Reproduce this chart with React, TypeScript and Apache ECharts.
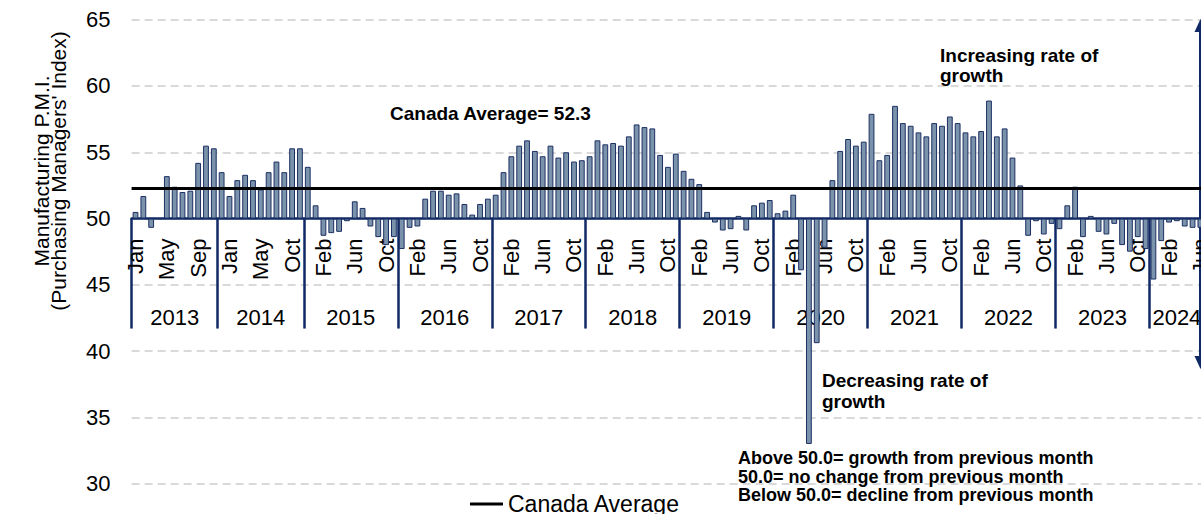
import React, { useEffect, useRef } from "react";
import * as echarts from "echarts";

// ---------- data ----------
const MONTHS = ["Jan", "Feb", "Mar", "Apr", "May", "Jun", "Jul", "Aug", "Sep", "Oct", "Nov", "Dec"];
// Aug 2014 is absent from the plotted series
const MONTHS_2014 = ["Jan", "Feb", "Mar", "Apr", "May", "Jun", "Jul", "Sep", "Oct", "Nov", "Dec"];
const MONTHS_2024 = ["Jan", "Feb", "Mar", "Apr", "May", "Jun"];

const pmi2013 = [50.5, 51.7, 49.3, 50.0, 53.2, 52.4, 52.0, 52.1, 54.2, 55.5, 55.3, 53.5];
const pmi2014 = [51.7, 52.9, 53.3, 52.9, 52.2, 53.5, 54.3, 53.5, 55.3, 55.3, 53.9];
const pmi2015 = [51.0, 48.7, 48.9, 49.0, 49.8, 51.3, 50.8, 49.4, 48.6, 48.0, 48.6, 47.7];
const pmi2016 = [49.3, 49.4, 51.5, 52.1, 52.1, 51.8, 51.9, 51.1, 50.3, 51.1, 51.5, 51.8];
const pmi2017 = [53.5, 54.7, 55.5, 55.9, 55.1, 54.7, 55.5, 54.6, 55.0, 54.3, 54.4, 54.7];
const pmi2018 = [55.9, 55.6, 55.7, 55.5, 56.2, 57.1, 56.9, 56.8, 54.8, 53.9, 54.9, 53.6];
const pmi2019 = [53.0, 52.6, 50.5, 49.7, 49.1, 49.2, 50.2, 49.1, 51.0, 51.2, 51.4, 50.4];
const pmi2020 = [50.6, 51.8, 46.1, 33.0, 40.6, 47.8, 52.9, 55.1, 56.0, 55.5, 55.8, 57.9];
const pmi2021 = [54.4, 54.8, 58.5, 57.2, 57.0, 56.5, 56.2, 57.2, 57.0, 57.7, 57.2, 56.5];
const pmi2022 = [56.2, 56.6, 58.9, 56.2, 56.8, 54.6, 52.5, 48.7, 49.8, 48.8, 49.6, 49.2];
const pmi2023 = [51.0, 52.4, 48.6, 50.2, 49.0, 48.8, 49.6, 48.0, 47.5, 48.6, 47.7, 45.4];
const pmi2024 = [48.3, 49.7, 49.8, 49.4, 49.3, 49.3];

const monthLabels: string[] = [
  MONTHS, MONTHS_2014, MONTHS, MONTHS, MONTHS, MONTHS, MONTHS, MONTHS, MONTHS, MONTHS, MONTHS, MONTHS_2024,
].flat();
const pmiValues: number[] = [
  pmi2013, pmi2014, pmi2015, pmi2016, pmi2017, pmi2018, pmi2019, pmi2020, pmi2021, pmi2022, pmi2023, pmi2024,
].flat();

// year group labels of the two-level category axis and the category index where each group begins
const yearLabels = ["2013", "2014", "2015", "2016", "2017", "2018", "2019", "2020", "2021", "2022", "2023", "2024"];
const yearGroupStart = [0, 11, 22, 34, 46, 58, 70, 82, 94, 106, 118, 130];

const canadaAverage = 52.3;
const BASELINE = 50;
const Y_MIN = 30;
const Y_MAX = 65;
const Y_STEP = 5;

const NAVY = "#102a66";
const FONT = '"Liberation Sans", Arial, sans-serif';

const GRID_TOP = 19.7;
const GRID_HEIGHT = 464;

export default function App() {
  const ref = useRef<HTMLDivElement>(null);

  useEffect(() => {
    if (!ref.current) return;
    const chart = echarts.init(ref.current, undefined, { renderer: "svg" });
    const shifted = pmiValues.map((v) => Math.round((v - BASELINE) * 10) / 10);
    const separatorSet = new Set(yearGroupStart);
    // move the category axis from the grid bottom up to the 50 baseline
    const axisOffset = -(GRID_HEIGHT * (BASELINE - Y_MIN)) / (Y_MAX - Y_MIN);

    chart.setOption({
      animation: false,
      grid: {
        left: 131.6,
        top: GRID_TOP,
        width: 1072.7,
        height: GRID_HEIGHT,
        containLabel: false,
        outerBoundsMode: "none",
      },
      legend: {
        data: [{ name: "Canada Average", icon: "rect" }],
        left: 470,
        top: 492,
        itemWidth: 33,
        itemHeight: 3,
        padding: 0,
        textStyle: { fontSize: 23, color: "#000", fontFamily: FONT, lineHeight: 24 },
      },
      xAxis: {
        type: "category",
        data: monthLabels,
        position: "bottom",
        offset: axisOffset,
        axisLine: { onZero: false, lineStyle: { color: NAVY, width: 2.5 } },
        axisTick: {
          show: true,
          interval: (i: number) => separatorSet.has(i),
          length: 110,
          lineStyle: { color: NAVY, width: 2.5 },
        },
        axisLabel: {
          interval: 3,
          rotate: 90,
          fontSize: 22,
          color: "#000",
          margin: 20,
          fontFamily: FONT,
        },
        splitLine: { show: false },
      },
      yAxis: {
        type: "value",
        min: Y_MIN - BASELINE,
        max: Y_MAX - BASELINE,
        interval: Y_STEP,
        axisLine: { show: false },
        axisTick: { show: false },
        axisLabel: {
          formatter: (v: number) => String(Math.round(v + BASELINE)),
          fontSize: 22,
          color: "#000",
          margin: 21,
          fontFamily: FONT,
        },
        splitLine: { show: true, lineStyle: { color: "#d9d9d9", width: 2, type: [8, 5] } },
      },
      series: [
        {
          type: "bar",
          name: "PMI",
          data: shifted,
          barWidth: "74%",
          itemStyle: { color: "#7b93aa", borderColor: "#1c2f63", borderWidth: 1 },
          markLine: {
            silent: true,
            symbol: ["none", "none"],
            label: { show: false },
            lineStyle: { color: "#000", width: 3, type: "solid" },
            data: [{ yAxis: Math.round((canadaAverage - BASELINE) * 10) / 10 }],
          },
        },
        {
          type: "line",
          name: "Canada Average",
          data: [],
          symbol: "none",
          lineStyle: { color: "#000", width: 3 },
          itemStyle: { color: "#000" },
        },
      ],
    });

    // year labels of the second category level, placed through the axis scale
    const c0 = chart.convertToPixel({ xAxisIndex: 0 }, 0) as number;
    const c1 = chart.convertToPixel({ xAxisIndex: 0 }, 1) as number;
    const band = c1 - c0;
    const leftEdge = (i: number) => c0 + i * band - band / 2;
    const n = pmiValues.length;
    const yearTexts = yearLabels.map((label, k) => {
      const s = yearGroupStart[k];
      const e = k + 1 < yearGroupStart.length ? yearGroupStart[k + 1] : n;
      return {
        type: "text",
        style: {
          text: label,
          x: (leftEdge(s) + leftEdge(e)) / 2,
          y: 317,
          align: "center",
          verticalAlign: "middle",
          fontSize: 22,
          fontFamily: FONT,
          fill: "#000",
        },
      };
    });

    const boldText = (text: string, x: number, y: number, size: number, lh: number) => ({
      type: "text",
      style: {
        text,
        x,
        y,
        align: "left",
        verticalAlign: "top",
        fontSize: size,
        fontWeight: "bold",
        fontFamily: FONT,
        lineHeight: lh,
        fill: "#000",
      },
    });

    chart.setOption({
      graphic: [
        ...yearTexts,
        {
          type: "text",
          x: 41,
          y: 171,
          rotation: Math.PI / 2,
          style: {
            text: "Manufacturing P.M.I.",
            align: "center",
            verticalAlign: "middle",
            fontSize: 21,
            fontFamily: FONT,
            fill: "#000",
          },
        },
        {
          type: "text",
          x: 58.5,
          y: 171,
          rotation: Math.PI / 2,
          style: {
            text: "(Purchasing Managers' Index)",
            align: "center",
            verticalAlign: "middle",
            fontSize: 21,
            fontFamily: FONT,
            fill: "#000",
          },
        },
        boldText("Canada Average= 52.3", 390, 103, 19, 20),
        boldText("Increasing rate of\ngrowth", 940, 45, 19, 20),
        boldText("Decreasing rate of\ngrowth", 822, 369.5, 19, 21),
        boldText(
          "Above 50.0= growth from previous month\n50.0= no change from previous month\nBelow 50.0= decline from previous month",
          738,
          448.75,
          18,
          18.5
        ),
        {
          type: "line",
          shape: { x1: 1200.5, y1: 26, x2: 1200.5, y2: 362 },
          style: { stroke: NAVY, lineWidth: 3 },
        },
        {
          type: "polygon",
          shape: { points: [[1200.5, 19], [1194.5, 32], [1206.5, 32]] },
          style: { fill: NAVY },
        },
        {
          type: "polygon",
          shape: { points: [[1200.5, 369], [1194.5, 356], [1206.5, 356]] },
          style: { fill: NAVY },
        },
      ],
    });

    return () => {
      chart.dispose();
    };
  }, []);

  return (
    <div
      style={{
        position: "fixed",
        left: 0,
        top: 0,
        width: 1201,
        height: 514,
        overflow: "hidden",
        background: "#fff",
      }}
    >
      <div ref={ref} style={{ width: 1216, height: 514 }} />
    </div>
  );
}
